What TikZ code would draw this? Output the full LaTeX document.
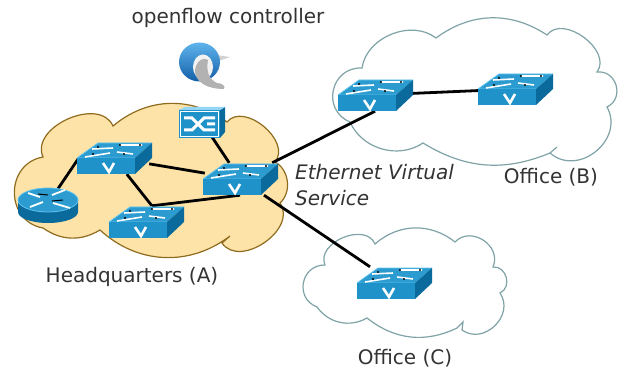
\documentclass[tikz,border=0pt]{standalone}
\usepackage{fontspec}
\setmainfont{DejaVu Sans}
\usetikzlibrary{positioning,shapes.geometric}
\definecolor{swtop}{HTML}{2B9BD0}
\definecolor{swedge}{HTML}{62C4F0}
\definecolor{swfront}{HTML}{1F92C9}
\definecolor{swside}{HTML}{0B6A9C}
\definecolor{hqfill}{HTML}{FDE3A8}
\definecolor{hqline}{HTML}{8F6B1E}
\definecolor{officeline}{HTML}{7FA3A6}
\definecolor{labeltext}{HTML}{333333}
\definecolor{logolight}{HTML}{5FB4EC}
\definecolor{logodark}{HTML}{125FA8}
\tikzset{
  label/.style = {text=labeltext, font=\fontsize{20pt}{24pt}\selectfont, inner sep=0pt},
  italiclabel/.style = {label, anchor=west, font=\fontsize{20pt}{24pt}\selectfont\itshape},
  swnode/.style = {minimum width=70pt, minimum height=32pt, inner sep=0pt},
  link/.style = {black, line width=2.8pt},
  hqcloud/.style = {draw=hqline, fill=hqfill, line width=1.2pt},
  officecloud/.style = {draw=officeline, fill=white, line width=1.2pt},
  lobe/.style 2 args = {bend left=#1, looseness=#2},
  pics/switchicon/.style = {code={
    \fill[swtop] (-37,0) -- (-16,-15) -- (38,-15) -- (21,0) -- cycle;
    \draw[swedge, line width=0.8pt] (-37,0) -- (-16,-15) -- (38,-15) (-37,0) -- (21,0);
    \fill[swfront] (-37,0) rectangle (21,16);
    \fill[swside] (21,0) -- (38,-15) -- (38,0) -- (21,16) -- cycle;
    \draw[white, line width=1.6pt] (-22,-9) -- (-1,-10) (6,-13) -- (28,-13)
      (3,-6) -- (19,-4) (-29,-1) -- (-4,-5);
    \fill[black] (-16,-11) circle (1.1pt) (6,-13) circle (1.1pt) (26,-13) circle (1.1pt)
      (-21,-4) circle (1.1pt) (10,-4) circle (1.1pt);
    \draw[white, line width=2.6pt] (-11,5) -- (-5,14) -- (0,5);
  }}
}
\begin{document}
\begin{tikzpicture}[x=1pt, y=-1pt]
\useasboundingbox (0,0) rectangle (620,371);

% clouds
\path[hqcloud] (43,157) to[lobe={90}{1.1}] (113,126) to[lobe={38}{1}] (227,122)
  to[lobe={90}{1.1}] (275,162) to[lobe={55}{1}] (280,203) to[lobe={90}{1.15}] (222,243)
  -- (230,236) to[lobe={40}{1}] (100,230) to[lobe={33}{1}] (43,228)
  to[lobe={80}{1.4}] cycle;
\path[officecloud] (362,68) to[lobe={60}{1}] (436,38) to[lobe={35}{1}] (547,35)
  to[lobe={90}{1.1}] (597,72) to[lobe={80}{1.4}] (607,107) to[lobe={80}{1.3}] (550,153)
  -- (557,147) -- (550,153) to[lobe={27}{1}] (423,143) to[lobe={50}{1}] (350,122)
  to[lobe={80}{1.45}] cycle;
\path[officecloud] (325,265) to[lobe={90}{1.15}] (375,244) to[lobe={40}{1}] (455,242)
  to[lobe={80}{1.3}] (493,267) to[lobe={80}{1.3}] (500,293) to[lobe={80}{1.3}] (462,330)
  -- (463,322) -- (457,328) to[lobe={32}{1}] (367,318) to[lobe={42}{1}] (317,307)
  to[lobe={80}{1.45}] cycle;

% devices
\node[swnode] (hq1) at (114,158) {};
\node[swnode] (hq2) at (240,179) {};
\node[swnode] (hq3) at (146,222) {};
\node[swnode] (b1) at (375,95) {};
\node[swnode] (b2) at (515,89) {};
\node[swnode] (c1) at (394,283) {};
\node[minimum width=60pt, minimum height=34pt, inner sep=0pt] (router) at (48,206) {};
\node[minimum width=44pt, minimum height=30pt, inner sep=0pt] (ctrl) at (202,122) {};

\draw[link] (router.60) -- (hq1.west);
\draw[link] (hq1) -- (hq2);
\draw[link] (hq1) -- (hq3.70);
\draw[link] (hq3.70) -- (hq2.south);
\draw[link] (ctrl) -- (hq2);
\draw[link] (hq2) -- (b1.south);
\draw[link] (hq2) -- (c1);
\draw[link] (b1) -- (b2);

\foreach \sw in {hq1,hq2,hq3,b1,b2,c1}
  \pic at (\sw) {switchicon};

% router
\fill[swside] (18,200) -- (18,212) arc (180:0:30 and 11) -- (78,200) -- cycle;
\fill[swtop] (48,200) ellipse (30 and 12);
\draw[swedge, line width=0.8pt] (48,200) ellipse (30 and 12);
\draw[white, line width=1.8pt] (28,193) -- (40,197) (52,195) -- (65,190)
  (30,207) -- (43,202) (53,203) -- (70,208);
\draw[black, line width=1pt] (38,194) -- (48,195) (52,201) -- (63,200);

% switch under the controller
\fill[swside] (220,110) -- (225,107) -- (225,132) -- (220,138) -- cycle;
\fill[swedge!70] (179,110) -- (185,107) -- (225,107) -- (220,110) -- cycle;
\fill[swfront] (179,110) rectangle (220,138);
\draw[white, line width=1pt] (180.5,111.5) rectangle (218.5,136.5);
\draw[white, line width=3pt] (184,118) -- (192,118) -- (204,130) -- (215,130)
  (184,130) -- (192,130) -- (204,118) -- (215,118) (207,124) -- (215,124);

% controller logo
\fill[gray!35] (216,55) -- (230,57) -- (216,62) -- cycle;
\shade[top color=logolight, bottom color=logodark] (199.5,62) ellipse (20.5 and 19.5);
\fill[white!90!gray] (203,67) ellipse (10 and 12.5);
\fill[gray!60] (196,66) .. controls (192,76) and (200,89) .. (224,89)
  .. controls (226,86) and (222,83) .. (217,83) .. controls (209,79) and (206,72) .. (208,60)
  .. controls (204,57) and (198,60) .. (196,66);

% labels
\node[label] (lctrl) at (228,18) {openflow controller};
\node[label] (lhq) at (132,277) {Headquarters (A)};
\node[label] (lb) at (551,177) {Office (B)};
\node[label] (lc) at (405,358) {Office (C)};
\node[italiclabel] (lsvc) at (295,172) {Ethernet Virtual};
\node[italiclabel] (lsvc2) at (295,198) {Service};
\end{tikzpicture}
\end{document}
